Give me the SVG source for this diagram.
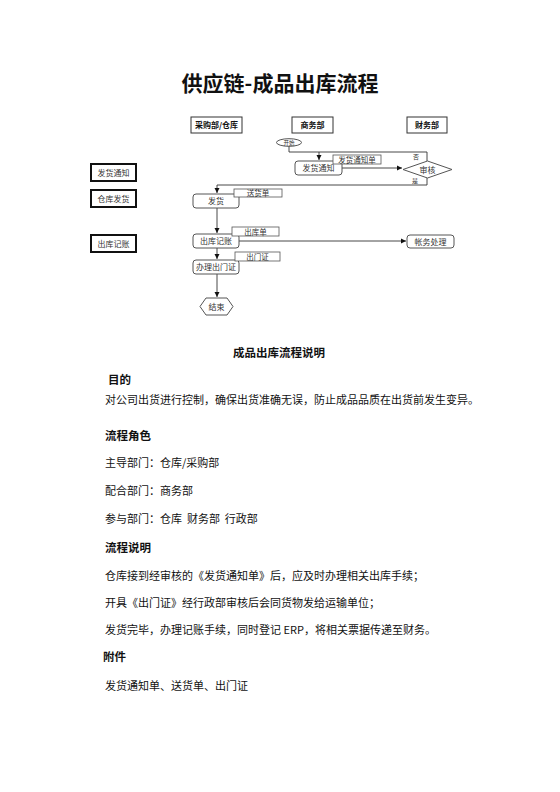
<svg xmlns="http://www.w3.org/2000/svg" width="560" height="792" viewBox="0 0 560 792">
<style>
text{font-family:"Noto Sans CJK SC","Noto Sans",sans-serif;fill:#111}
.t{font-size:21px;font-weight:bold;text-anchor:middle}
.h{font-size:11.5px;font-weight:bold}
.b{font-size:11px}
.hd rect{fill:#fff;stroke:#333;stroke-width:1}
.hd text{font-size:8px;font-weight:bold;text-anchor:middle}
.lb rect{fill:#fff;stroke:#111;stroke-width:2}
.lb text{font-size:8px;text-anchor:middle;fill:#333}
.nd rect,.nd polygon,.nd ellipse{fill:#fff;stroke:#555;stroke-width:1}
.nd text{font-size:8px;text-anchor:middle;fill:#333}
.doc rect{fill:#fff;stroke:#555;stroke-width:0.8}
.doc text{font-size:7.5px;text-anchor:middle;fill:#333}
.cn path{fill:none;stroke:#333;stroke-width:0.9}
.yn{font-size:6px;fill:#333}
</style>
<defs>
<marker id="ar" markerWidth="6" markerHeight="6" refX="5" refY="3" orient="auto" markerUnits="userSpaceOnUse">
<path d="M0,0.5 L5,3 L0,5.5 Z" fill="#111"/>
</marker>
</defs>
<rect width="560" height="792" fill="#fff"/>
<text class="t" x="280" y="91">供应链-成品出库流程</text>

<g id="hdr-caigou" class="hd"><rect x="191" y="117" width="51" height="16"/><text x="216.5" y="128">采购部/仓库</text></g>
<g id="hdr-shangwu" class="hd"><rect x="292" y="117" width="41" height="16"/><text x="312.5" y="128">商务部</text></g>
<g id="hdr-caiwu" class="hd"><rect x="407" y="117" width="40" height="16"/><text x="427" y="128">财务部</text></g>

<g id="lbl-fahuotongzhi" class="lb"><rect x="91" y="164" width="45" height="17"/><text x="113.5" y="175.5">发货通知</text></g>
<g id="lbl-cangkufahuo" class="lb"><rect x="91" y="190" width="45" height="17"/><text x="113.5" y="201.5">仓库发货</text></g>
<g id="lbl-chukujizhang" class="lb"><rect x="91" y="235" width="45" height="17"/><text x="113.5" y="246.5">出库记账</text></g>

<g id="connectors" class="cn">
<path d="M289,146 V152 H319 V160" marker-end="url(#ar)"/>
<path d="M427,161 V152 H319"/>
<path d="M342,168 H402" marker-end="url(#ar)"/>
<path d="M427,178 V185 H217 V193" marker-end="url(#ar)"/>
<path d="M217,208 V233" marker-end="url(#ar)"/>
<path d="M239,241 H406" marker-end="url(#ar)"/>
<path d="M217,248 V259" marker-end="url(#ar)"/>
<path d="M217,274 V297" marker-end="url(#ar)"/>
</g>
<text class="yn" x="413" y="159">否</text>
<text class="yn" x="412" y="183">是</text>

<g id="start" class="nd"><ellipse cx="289" cy="142.5" rx="12.5" ry="3.8"/><text x="289" y="144.8" style="font-size:5.5px">开始</text></g>
<g id="n-fahuotongzhi" class="nd"><rect x="295" y="161" width="47" height="14" rx="3"/><text x="318.5" y="171">发货通知</text></g>
<g id="n-shenhe" class="nd"><polygon points="403,169.5 427.5,161 452,169.5 427.5,178"/><text x="427.5" y="172.5">审核</text></g>
<g id="n-fahuo" class="nd"><rect x="193" y="194" width="46" height="14" rx="3"/><text x="216" y="204">发货</text></g>
<g id="n-chukujizhang" class="nd"><rect x="193" y="234" width="46" height="14" rx="3"/><text x="216" y="244">出库记账</text></g>
<g id="n-zhangwu" class="nd"><rect x="407" y="235" width="47" height="13" rx="3"/><text x="430.5" y="244.5">帐务处理</text></g>
<g id="n-banli" class="nd"><rect x="193" y="260" width="46" height="14" rx="3"/><text x="216" y="270">办理出门证</text></g>
<g id="end" class="nd"><polygon points="200,306.5 206,298 227,298 233,306.5 227,315 206,315"/><text x="216.5" y="309.5">结束</text></g>

<g id="doc-tongzhidan" class="doc"><rect x="333" y="155" width="48" height="9"/><text x="357" y="162.5">发货通知单</text></g>
<g id="doc-songhuodan" class="doc"><rect x="234" y="189" width="48" height="8"/><text x="258" y="195.8">送货单</text></g>
<g id="doc-chukudan" class="doc"><rect x="232" y="227" width="47" height="9"/><text x="255.5" y="234.5">出库单</text></g>
<g id="doc-chumenzheng" class="doc"><rect x="235" y="252" width="45" height="9"/><text x="257.5" y="259.5">出门证</text></g>

<text class="h" x="279" y="357" text-anchor="middle">成品出库流程说明</text>
<text class="h" x="108" y="384">目的</text>
<text class="b" x="105" y="404">对公司出货进行控制，确保出货准确无误，防止成品品质在出货前发生变异。</text>
<text class="h" x="105" y="440">流程角色</text>
<text class="b" x="105" y="467">主导部门：仓库/采购部</text>
<text class="b" x="105" y="495">配合部门：商务部</text>
<text class="b" x="105" y="523" xml:space="preserve">参与部门：仓库  财务部  行政部</text>
<text class="h" x="105" y="552">流程说明</text>
<text class="b" x="105" y="580">仓库接到经审核的《发货通知单》后，应及时办理相关出库手续；</text>
<text class="b" x="105" y="607">开具《出门证》经行政部审核后会同货物发给运输单位；</text>
<text class="b" x="105" y="634">发货完毕，办理记账手续，同时登记 ERP，将相关票据传递至财务。</text>
<text class="h" x="103" y="661">附件</text>
<text class="b" x="105" y="690">发货通知单、送货单、出门证</text>
</svg>
